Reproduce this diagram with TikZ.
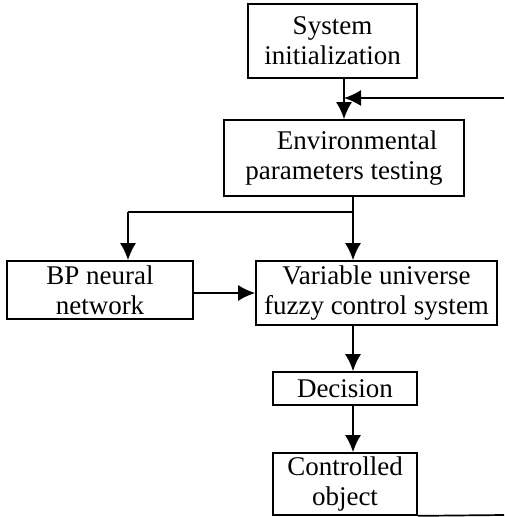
\documentclass[tikz,border=0pt]{standalone}
\usepackage{fontspec}
\setmainfont{Liberation Serif}
\usetikzlibrary{arrows.meta}
\tikzset{
  boxnode/.style={draw, line width=1.7pt, inner sep=0pt, align=center,
    font=\fontsize{27}{30}\selectfont},
  flowline/.style={line width=1.7pt},
  flowarrow/.style={line width=1.7pt, -{Latex[length=17pt,width=16pt]}}
}
\begin{document}
\begin{tikzpicture}[x=1pt,y=-1pt]
\useasboundingbox (0,0) rectangle (504,517);
\node[boxnode, minimum width=169pt, minimum height=74pt] (sys) at (332.5,41) {System\\initialization};
\node[boxnode, minimum width=240pt, minimum height=76pt] (env) at (344,158) {\hspace*{26pt}Environmental\\parameters testing};
\node[boxnode, minimum width=186pt, minimum height=58pt] (bp) at (100,290) {BP neural\\network};
\node[boxnode, minimum width=241pt, minimum height=64pt] (fuzzy) at (376.5,293) {Variable universe\\fuzzy control system};
\node[boxnode, minimum width=144pt, minimum height=33pt] (dec) at (345,388.5) {Decision};
\node[boxnode, minimum width=144pt, minimum height=62pt] (ctrl) at (345,484) {Controlled\\object};
\coordinate (br) at (353,212);
\coordinate (bpin) at (128,212);
\coordinate (fbtop) at (504,98);
\coordinate (fbbot) at (504,515);
% system -> environment
\draw[flowarrow] (sys.south -| env.north) -- (env.north);
% environment -> branch
\draw[flowline] (br |- env.south) -- (br) -- (bpin);
\draw[flowarrow] (bpin) -- (bpin |- bp.north);
\draw[flowarrow] (br) -- (br |- fuzzy.north);
% BP -> fuzzy
\draw[flowarrow] (bp.east |- fuzzy.west) -- (fuzzy.west);
% fuzzy -> decision -> controlled
\draw[flowarrow] (fuzzy.south -| br) -- (dec.north -| br);
\draw[flowarrow] (dec.south -| br) -- (ctrl.north -| br);
% feedback
\draw[flowline] (ctrl.south east) -- (fbbot);
\draw[flowarrow] (fbtop) -- (fbtop -| env.north);
\end{tikzpicture}
\end{document}
